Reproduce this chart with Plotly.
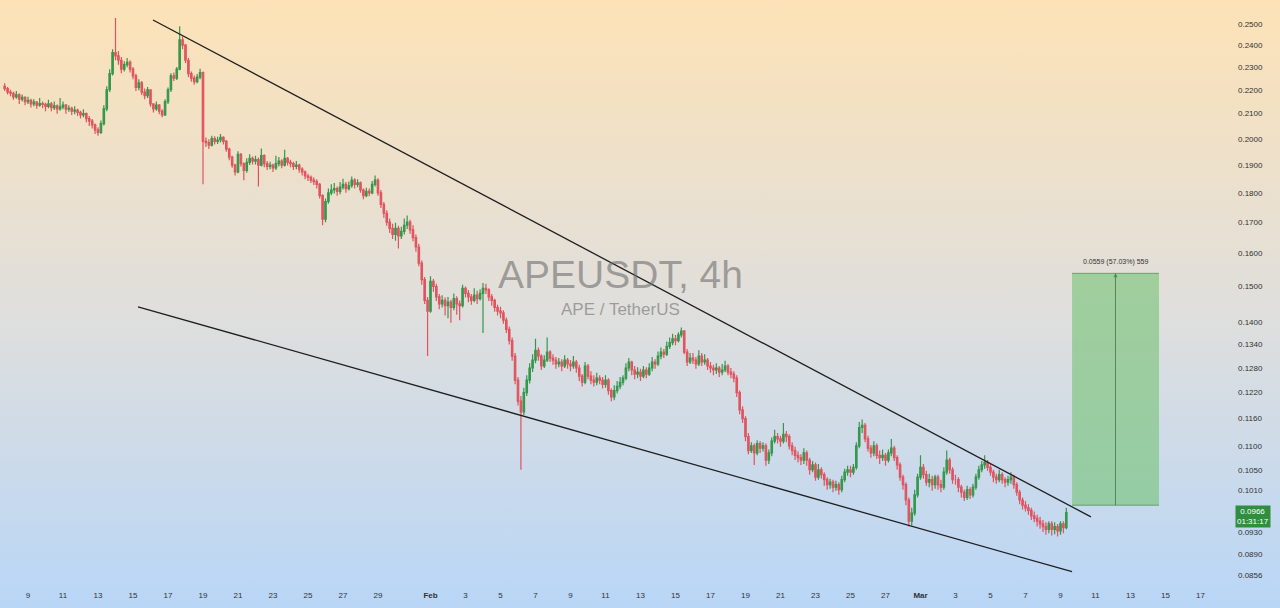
import base64
import math
import pandas as pd
import plotly.graph_objs as go

# APEUSDT 4h candles, 2025-01-07 16:00 -> 2025-03-09 08:00 (one row per day)
first_open = 0.2215
closes = [
	0.2205, 0.2190,  # Jan 7
	0.2185, 0.2170, 0.2178, 0.2160, 0.2168, 0.2150,  # Jan 8
	0.2155, 0.2140, 0.2148, 0.2135, 0.2142, 0.2138,  # Jan 9
	0.2130, 0.2140, 0.2125, 0.2132, 0.2120, 0.2128,  # Jan 10
	0.2135, 0.2118, 0.2122, 0.2110, 0.2115, 0.2105,  # Jan 11
	0.2095, 0.2100, 0.2080, 0.2070, 0.2055, 0.2035,  # Jan 12
	0.2025, 0.2060, 0.2120, 0.2200, 0.2270, 0.2365,  # Jan 13
	0.2350, 0.2330, 0.2290, 0.2310, 0.2320, 0.2290,  # Jan 14
	0.2260, 0.2210, 0.2230, 0.2190, 0.2175, 0.2200,  # Jan 15
	0.2140, 0.2120, 0.2135, 0.2110, 0.2095, 0.2150,  # Jan 16
	0.2200, 0.2260, 0.2250, 0.2290, 0.2425, 0.2400,  # Jan 17
	0.2330, 0.2270, 0.2250, 0.2235, 0.2255, 0.2275,  # Jan 18
	0.1990, 0.1985, 0.1975, 0.2000, 0.1990, 0.1995,  # Jan 19
	0.2005, 0.1990, 0.1960, 0.1930, 0.1900, 0.1875,  # Jan 20
	0.1940, 0.1905, 0.1880, 0.1910, 0.1925, 0.1915,  # Jan 21
	0.1920, 0.1900, 0.1935, 0.1905, 0.1895, 0.1900,  # Jan 22
	0.1890, 0.1905, 0.1915, 0.1900, 0.1925, 0.1910,  # Jan 23
	0.1905, 0.1895, 0.1900, 0.1885, 0.1875, 0.1860,  # Jan 24
	0.1855, 0.1845, 0.1840, 0.1830, 0.1790, 0.1710,  # Jan 25
	0.1770, 0.1800, 0.1810, 0.1815, 0.1805, 0.1820,  # Jan 26
	0.1830, 0.1815, 0.1825, 0.1845, 0.1830, 0.1835,  # Jan 27
	0.1810, 0.1790, 0.1805, 0.1800, 0.1830, 0.1845,  # Jan 28
	0.1800, 0.1760, 0.1730, 0.1700, 0.1680, 0.1660,  # Jan 29
	0.1680, 0.1655, 0.1670, 0.1690, 0.1700, 0.1675,  # Jan 30
	0.1650, 0.1620, 0.1570, 0.1520, 0.1460, 0.1430,  # Jan 31
	0.1515, 0.1500, 0.1470, 0.1450, 0.1460, 0.1445,  # Feb 1
	0.1455, 0.1440, 0.1465, 0.1450, 0.1445, 0.1495,  # Feb 2
	0.1480, 0.1470, 0.1460, 0.1475, 0.1465, 0.1480,  # Feb 3
	0.1495, 0.1490, 0.1470, 0.1460, 0.1440, 0.1430,  # Feb 4
	0.1425, 0.1405, 0.1380, 0.1350, 0.1310, 0.1250,  # Feb 5
	0.1200, 0.1175, 0.1220, 0.1250, 0.1280, 0.1300,  # Feb 6
	0.1325, 0.1310, 0.1285, 0.1300, 0.1320, 0.1305,  # Feb 7
	0.1300, 0.1290, 0.1295, 0.1285, 0.1300, 0.1290,  # Feb 8
	0.1285, 0.1295, 0.1280, 0.1260, 0.1245, 0.1285,  # Feb 9
	0.1260, 0.1250, 0.1245, 0.1255, 0.1250, 0.1240,  # Feb 10
	0.1250, 0.1225, 0.1210, 0.1225, 0.1235, 0.1245,  # Feb 11
	0.1255, 0.1280, 0.1295, 0.1275, 0.1265, 0.1270,  # Feb 12
	0.1260, 0.1275, 0.1265, 0.1280, 0.1295, 0.1290,  # Feb 13
	0.1310, 0.1320, 0.1315, 0.1335, 0.1345, 0.1355,  # Feb 14
	0.1350, 0.1365, 0.1375, 0.1320, 0.1295, 0.1305,  # Feb 15
	0.1300, 0.1290, 0.1310, 0.1295, 0.1300, 0.1285,  # Feb 16
	0.1280, 0.1275, 0.1280, 0.1270, 0.1275, 0.1285,  # Feb 17
	0.1270, 0.1265, 0.1255, 0.1220, 0.1180, 0.1160,  # Feb 18
	0.1120, 0.1090, 0.1100, 0.1085, 0.1105, 0.1095,  # Feb 19
	0.1100, 0.1070, 0.1085, 0.1110, 0.1120, 0.1115,  # Feb 20
	0.1110, 0.1125, 0.1120, 0.1100, 0.1090, 0.1080,  # Feb 21
	0.1075, 0.1070, 0.1085, 0.1070, 0.1050, 0.1060,  # Feb 22
	0.1035, 0.1050, 0.1040, 0.1030, 0.1020, 0.1025,  # Feb 23
	0.1015, 0.1020, 0.1010, 0.1030, 0.1045, 0.1050,  # Feb 24
	0.1045, 0.1055, 0.1100, 0.1140, 0.1145, 0.1115,  # Feb 25
	0.1095, 0.1085, 0.1100, 0.1080, 0.1075, 0.1080,  # Feb 26
	0.1070, 0.1085, 0.1095, 0.1075, 0.1060, 0.1035,  # Feb 27
	0.1020, 0.0990, 0.0950, 0.0965, 0.1000, 0.1035,  # Feb 28
	0.1055, 0.1040, 0.1025, 0.1030, 0.1020, 0.1035,  # Mar 1
	0.1020, 0.1015, 0.1045, 0.1070, 0.1050, 0.1030,  # Mar 2
	0.1030, 0.1015, 0.1005, 0.0995, 0.1010, 0.1000,  # Mar 3
	0.1015, 0.1035, 0.1050, 0.1060, 0.1065, 0.1055,  # Mar 4
	0.1045, 0.1035, 0.1030, 0.1040, 0.1030, 0.1025,  # Mar 5
	0.1030, 0.1035, 0.1020, 0.1005, 0.0990, 0.0980,  # Mar 6
	0.0975, 0.0970, 0.0960, 0.0955, 0.0950, 0.0945,  # Mar 7
	0.0940, 0.0935, 0.0945, 0.0935, 0.0940, 0.0932,  # Mar 8
	0.0945, 0.0938, 0.0966,  # Mar 9
]
highs = [
	0.2228, 0.2212,
	0.2200, 0.2192, 0.2195, 0.2185, 0.2180, 0.2172,
	0.2170, 0.2162, 0.2160, 0.2152, 0.2165, 0.2150,
	0.2145, 0.2158, 0.2148, 0.2150, 0.2138, 0.2165,
	0.2150, 0.2140, 0.2135, 0.2128, 0.2130, 0.2120,
	0.2112, 0.2118, 0.2105, 0.2090, 0.2078, 0.2060,
	0.2045, 0.2072, 0.2135, 0.2215, 0.2290, 0.2380,
	0.2530, 0.2372, 0.2345, 0.2325, 0.2340, 0.2330,
	0.2300, 0.2270, 0.2245, 0.2238, 0.2205, 0.2212,
	0.2200, 0.2142, 0.2150, 0.2140, 0.2118, 0.2160,
	0.2210, 0.2272, 0.2275, 0.2300, 0.2490, 0.2440,
	0.2405, 0.2340, 0.2280, 0.2262, 0.2268, 0.2292,
	0.2280, 0.2005, 0.1998, 0.2012, 0.2010, 0.2008,
	0.2018, 0.2010, 0.1995, 0.1965, 0.1935, 0.1905,
	0.1952, 0.1945, 0.1910, 0.1925, 0.1940, 0.1932,
	0.1935, 0.1928, 0.1962, 0.1940, 0.1915, 0.1912,
	0.1905, 0.1935, 0.1930, 0.1922, 0.1958, 0.1930,
	0.1920, 0.1912, 0.1915, 0.1905, 0.1892, 0.1880,
	0.1868, 0.1862, 0.1855, 0.1848, 0.1835, 0.1795,
	0.1780, 0.1815, 0.1830, 0.1835, 0.1822, 0.1838,
	0.1850, 0.1838, 0.1840, 0.1858, 0.1852, 0.1848,
	0.1840, 0.1815, 0.1818, 0.1815, 0.1842, 0.1862,
	0.1852, 0.1810, 0.1768, 0.1740, 0.1712, 0.1695,
	0.1698, 0.1688, 0.1685, 0.1712, 0.1722, 0.1708,
	0.1690, 0.1660, 0.1630, 0.1578, 0.1528, 0.1470,
	0.1530, 0.1522, 0.1508, 0.1478, 0.1475, 0.1468,
	0.1470, 0.1462, 0.1480, 0.1472, 0.1460, 0.1505,
	0.1500, 0.1490, 0.1478, 0.1495, 0.1488, 0.1492,
	0.1510, 0.1508, 0.1495, 0.1478, 0.1465, 0.1448,
	0.1442, 0.1432, 0.1412, 0.1388, 0.1358, 0.1318,
	0.1258, 0.1212, 0.1232, 0.1262, 0.1292, 0.1315,
	0.1355, 0.1332, 0.1315, 0.1312, 0.1358, 0.1325,
	0.1315, 0.1308, 0.1305, 0.1302, 0.1312, 0.1305,
	0.1300, 0.1310, 0.1300, 0.1288, 0.1265, 0.1295,
	0.1290, 0.1272, 0.1262, 0.1268, 0.1262, 0.1258,
	0.1262, 0.1255, 0.1230, 0.1238, 0.1248, 0.1258,
	0.1262, 0.1292, 0.1305, 0.1298, 0.1285, 0.1282,
	0.1278, 0.1285, 0.1282, 0.1292, 0.1308, 0.1302,
	0.1322, 0.1332, 0.1328, 0.1348, 0.1358, 0.1368,
	0.1365, 0.1372, 0.1385, 0.1378, 0.1328, 0.1318,
	0.1318, 0.1308, 0.1325, 0.1318, 0.1315, 0.1305,
	0.1295, 0.1288, 0.1292, 0.1285, 0.1290, 0.1298,
	0.1290, 0.1280, 0.1272, 0.1262, 0.1225, 0.1188,
	0.1165, 0.1128, 0.1108, 0.1105, 0.1112, 0.1110,
	0.1108, 0.1105, 0.1092, 0.1118, 0.1135, 0.1128,
	0.1122, 0.1150, 0.1132, 0.1125, 0.1108, 0.1098,
	0.1088, 0.1082, 0.1095, 0.1090, 0.1075, 0.1068,
	0.1065, 0.1062, 0.1055, 0.1045, 0.1035, 0.1032,
	0.1030, 0.1028, 0.1025, 0.1038, 0.1052, 0.1058,
	0.1058, 0.1062, 0.1108, 0.1152, 0.1158, 0.1150,
	0.1122, 0.1102, 0.1110, 0.1105, 0.1090, 0.1092,
	0.1085, 0.1092, 0.1115, 0.1100, 0.1080, 0.1065,
	0.1040, 0.1025, 0.0995, 0.0975, 0.1010, 0.1042,
	0.1080, 0.1062, 0.1048, 0.1042, 0.1038, 0.1040,
	0.1040, 0.1030, 0.1055, 0.1090, 0.1075, 0.1055,
	0.1040, 0.1035, 0.1020, 0.1010, 0.1018, 0.1015,
	0.1022, 0.1042, 0.1058, 0.1068, 0.1080, 0.1070,
	0.1062, 0.1050, 0.1042, 0.1050, 0.1045, 0.1035,
	0.1038, 0.1045, 0.1040, 0.1025, 0.1010, 0.0995,
	0.0988, 0.0982, 0.0975, 0.0968, 0.0962, 0.0958,
	0.0952, 0.0948, 0.0950, 0.0950, 0.0948, 0.0945,
	0.0950, 0.0950, 0.0975,
]
lows = [
	0.2195, 0.2180,
	0.2172, 0.2158, 0.2162, 0.2140, 0.2150, 0.2135,
	0.2140, 0.2125, 0.2130, 0.2120, 0.2128, 0.2122,
	0.2110, 0.2122, 0.2110, 0.2115, 0.2100, 0.2112,
	0.2118, 0.2100, 0.2108, 0.2095, 0.2098, 0.2090,
	0.2080, 0.2085, 0.2065, 0.2050, 0.2040, 0.2018,
	0.2012, 0.2018, 0.2052, 0.2110, 0.2190, 0.2262,
	0.2330, 0.2310, 0.2272, 0.2280, 0.2298, 0.2275,
	0.2245, 0.2195, 0.2198, 0.2178, 0.2160, 0.2165,
	0.2128, 0.2105, 0.2112, 0.2098, 0.2085, 0.2090,
	0.2140, 0.2190, 0.2238, 0.2242, 0.2285, 0.2380,
	0.2318, 0.2255, 0.2235, 0.2222, 0.2228, 0.2245,
	0.1830, 0.1968, 0.1960, 0.1970, 0.1978, 0.1980,
	0.1985, 0.1978, 0.1950, 0.1918, 0.1890, 0.1862,
	0.1870, 0.1895, 0.1845, 0.1872, 0.1900, 0.1902,
	0.1902, 0.1822, 0.1895, 0.1892, 0.1882, 0.1885,
	0.1875, 0.1882, 0.1895, 0.1888, 0.1895, 0.1898,
	0.1892, 0.1882, 0.1885, 0.1872, 0.1862, 0.1848,
	0.1842, 0.1835, 0.1828, 0.1815, 0.1780, 0.1690,
	0.1700, 0.1762, 0.1792, 0.1798, 0.1790, 0.1795,
	0.1812, 0.1800, 0.1808, 0.1818, 0.1815, 0.1820,
	0.1800, 0.1778, 0.1785, 0.1788, 0.1795, 0.1822,
	0.1790, 0.1748, 0.1715, 0.1688, 0.1665, 0.1645,
	0.1640, 0.1615, 0.1645, 0.1660, 0.1678, 0.1662,
	0.1638, 0.1605, 0.1560, 0.1505, 0.1450, 0.1310,
	0.1425, 0.1485, 0.1458, 0.1435, 0.1440, 0.1418,
	0.1410, 0.1398, 0.1432, 0.1420, 0.1405, 0.1440,
	0.1468, 0.1455, 0.1448, 0.1455, 0.1450, 0.1460,
	0.1370, 0.1478, 0.1458, 0.1445, 0.1428, 0.1418,
	0.1410, 0.1395, 0.1370, 0.1340, 0.1298, 0.1240,
	0.1190, 0.1050, 0.1168, 0.1212, 0.1242, 0.1270,
	0.1292, 0.1298, 0.1275, 0.1280, 0.1295, 0.1295,
	0.1288, 0.1278, 0.1282, 0.1272, 0.1280, 0.1278,
	0.1272, 0.1278, 0.1268, 0.1248, 0.1235, 0.1240,
	0.1252, 0.1240, 0.1235, 0.1238, 0.1240, 0.1230,
	0.1232, 0.1215, 0.1200, 0.1202, 0.1218, 0.1228,
	0.1238, 0.1250, 0.1272, 0.1262, 0.1252, 0.1255,
	0.1248, 0.1255, 0.1255, 0.1260, 0.1272, 0.1278,
	0.1285, 0.1302, 0.1305, 0.1310, 0.1328, 0.1338,
	0.1338, 0.1345, 0.1358, 0.1315, 0.1285, 0.1290,
	0.1290, 0.1278, 0.1285, 0.1285, 0.1288, 0.1275,
	0.1268, 0.1262, 0.1265, 0.1258, 0.1262, 0.1270,
	0.1262, 0.1255, 0.1245, 0.1210, 0.1170, 0.1150,
	0.1110, 0.1082, 0.1085, 0.1060, 0.1080, 0.1085,
	0.1088, 0.1058, 0.1062, 0.1078, 0.1105, 0.1105,
	0.1098, 0.1105, 0.1108, 0.1092, 0.1080, 0.1070,
	0.1065, 0.1060, 0.1062, 0.1058, 0.1040, 0.1045,
	0.1028, 0.1030, 0.1032, 0.1018, 0.1010, 0.1012,
	0.1005, 0.1008, 0.1000, 0.1005, 0.1025, 0.1038,
	0.1035, 0.1040, 0.1050, 0.1095, 0.1128, 0.1108,
	0.1088, 0.1075, 0.1078, 0.1072, 0.1062, 0.1068,
	0.1058, 0.1065, 0.1078, 0.1068, 0.1050, 0.1028,
	0.1010, 0.0980, 0.0940, 0.0942, 0.0960, 0.0995,
	0.1030, 0.1032, 0.1018, 0.1015, 0.1008, 0.1012,
	0.1010, 0.1005, 0.1010, 0.1040, 0.1042, 0.1022,
	0.1020, 0.1005, 0.0995, 0.0988, 0.0990, 0.0992,
	0.0995, 0.1010, 0.1030, 0.1045, 0.1052, 0.1048,
	0.1038, 0.1025, 0.1022, 0.1025, 0.1022, 0.1015,
	0.1018, 0.1022, 0.1012, 0.0998, 0.0982, 0.0972,
	0.0968, 0.0962, 0.0952, 0.0948, 0.0940, 0.0936,
	0.0930, 0.0925, 0.0928, 0.0924, 0.0926, 0.0922,
	0.0925, 0.0928, 0.0935,
]

# falling wedge drawn on the chart (date, price)
upper_line = [('2025-01-16 03:26', 0.2520), ('2025-03-10 17:46', 0.0958)]
lower_line = [('2025-01-15 06:51', 0.1442), ('2025-03-09 15:50', 0.0861)]

# measure box (target)
box_x = ['2025-03-09 15:50', '2025-03-14 15:07']
box_mid = '2025-03-12 03:26'
box_low = 0.0980
box_high = 0.1539
box_label = '0.0559 (57.03%) 559'

y_ticks = [0.25, 0.24, 0.23, 0.22, 0.21, 0.20, 0.19, 0.18, 0.17, 0.16, 0.15,
	0.14, 0.134, 0.128, 0.122, 0.116, 0.11, 0.105, 0.101, 0.093, 0.089, 0.0856]
x_tick_dates = ['2025-01-09', '2025-01-11', '2025-01-13', '2025-01-15', '2025-01-17',
	'2025-01-19', '2025-01-21', '2025-01-23', '2025-01-25', '2025-01-27', '2025-01-29',
	'2025-02-01', '2025-02-03', '2025-02-05', '2025-02-07', '2025-02-09', '2025-02-11',
	'2025-02-13', '2025-02-15', '2025-02-17', '2025-02-19', '2025-02-21', '2025-02-23',
	'2025-02-25', '2025-02-27', '2025-03-01', '2025-03-03', '2025-03-05', '2025-03-07',
	'2025-03-09', '2025-03-11', '2025-03-13', '2025-03-15', '2025-03-17']
x_tick_text = ['9', '11', '13', '15', '17', '19', '21', '23', '25', '27', '29',
	'<b>Feb</b>', '3', '5', '7', '9', '11', '13', '15', '17', '19', '21', '23', '25', '27',
	'<b>Mar</b>', '3', '5', '7', '9', '11', '13', '15', '17']

last_price = '0.0966'
countdown = '01:31:17'

W, H = 1280, 608
ML, MR, MT, MB = 0, 58, 0, 23

times = pd.date_range('2025-01-07 16:00', periods=len(closes), freq='4h')
opens = [first_open] + closes[:-1]

upColor = '#36974c'
downColor = '#e0545f'

plotData = []
plotData.append(go.Candlestick(
	x=times, open=opens, high=highs, low=lows, close=closes,
	increasing=dict(line=dict(color=upColor, width=1.2), fillcolor=upColor),
	decreasing=dict(line=dict(color=downColor, width=1.2), fillcolor=downColor),
	whiskerwidth=0, hoverinfo='skip', showlegend=False))

# green target box
plotData.append(go.Scatter(
	x=[box_x[0], box_x[1], box_x[1], box_x[0], box_x[0]],
	y=[box_low, box_low, box_high, box_high, box_low],
	mode='lines', fill='toself', fillcolor='rgba(120,196,120,0.62)',
	line=dict(width=0), hoverinfo='skip', showlegend=False))
for yy in [box_low, box_high]:
	plotData.append(go.Scatter(x=box_x, y=[yy, yy], mode='lines',
		line=dict(color='rgba(70,140,75,0.7)', width=1), hoverinfo='skip', showlegend=False))
plotData.append(go.Scatter(x=[box_mid, box_mid], y=[box_low, box_high], mode='lines',
	line=dict(color='#4e8a55', width=1), hoverinfo='skip', showlegend=False))

# wedge lines
for ln in [upper_line, lower_line]:
	plotData.append(go.Scatter(x=[p[0] for p in ln], y=[p[1] for p in ln], mode='lines',
		line=dict(color='#1f1f1f', width=1.3), hoverinfo='skip', showlegend=False))

# gradient background as svg image
svg = ('<svg xmlns="http://www.w3.org/2000/svg" width="%d" height="%d" preserveAspectRatio="none">'
	'<defs><linearGradient id="g" x1="0" y1="0" x2="0" y2="1">'
	'<stop offset="0" stop-color="#fde2b6"/><stop offset="0.5" stop-color="#e0dfdc"/>'
	'<stop offset="1" stop-color="#b9d6f7"/></linearGradient></defs>'
	'<rect width="%d" height="%d" fill="url(#g)"/></svg>') % (W, H, W, H)
bgSrc = 'data:image/svg+xml;base64,' + base64.b64encode(svg.encode()).decode()

pw = W - ML - MR
ph = H - MT - MB

layout = go.Layout(
	width=W, height=H,
	margin=dict(l=ML, r=MR, t=MT, b=MB),
	paper_bgcolor='#dfdedb', plot_bgcolor='rgba(0,0,0,0)',
	showlegend=False,
	font=dict(family='Liberation Sans', color='#333333'),
	images=[dict(source=bgSrc, xref='paper', yref='paper', x=0, y=1,
		sizex=W / pw, sizey=H / ph, xanchor='left', yanchor='top',
		sizing='stretch', layer='below')],
	xaxis=dict(type='date', range=['2025-01-07 09:36', '2025-03-18 05:30'],
		rangeslider=dict(visible=False), showgrid=False, zeroline=False,
		tickvals=x_tick_dates, ticktext=x_tick_text, tickfont=dict(size=8, color='#333'),
		ticks='', ticklabelstandoff=4, showline=False),
	yaxis=dict(type='log', side='right',
		range=[math.log10(0.0839), math.log10(0.2620)],
		showgrid=False, zeroline=False, showline=False,
		tickvals=y_ticks, ticktext=['%.4f' % v for v in y_ticks],
		tickfont=dict(size=8, color='#333'), ticks='', ticklabelstandoff=15),
)

fig = go.Figure(data=plotData, layout=layout)

# watermark
fig.add_annotation(text='APEUSDT, 4h', xref='paper', yref='paper', x=620 / pw, y=1 - 274 / ph,
	showarrow=False, font=dict(size=39, color='rgba(110,110,110,0.6)', family='Liberation Sans'),
	xanchor='center', yanchor='middle')
fig.add_annotation(text='APE / TetherUS', xref='paper', yref='paper', x=620 / pw, y=1 - 309 / ph,
	showarrow=False, font=dict(size=17, color='rgba(110,110,110,0.6)', family='Liberation Sans'),
	xanchor='center', yanchor='middle')

# measure label + arrow head
fig.add_annotation(text=box_label, x=box_mid, y=math.log10(box_high), yshift=11,
	showarrow=False, font=dict(size=7, color='#333'))
fig.add_annotation(x=box_mid, y=math.log10(box_high), ax=box_mid, ay=math.log10(box_high) - 0.01,
	axref='x', ayref='y', showarrow=True, arrowhead=2, arrowsize=0.8, arrowwidth=1,
	arrowcolor='#4e8a55', text='')

# last price tag
fig.add_annotation(text=last_price + '<br>' + countdown, xref='paper', yref='paper',
	x=1253 / pw, y=1 - 516 / ph, showarrow=False, bgcolor='#2f8f3e',
	font=dict(size=8, color='white'), borderpad=1, xanchor='center', yanchor='middle')

# page body margin would shift the figure by 8px
fig.write_html("out.html", config={'displayModeBar': False},
	post_script="document.body.style.margin='0';")
